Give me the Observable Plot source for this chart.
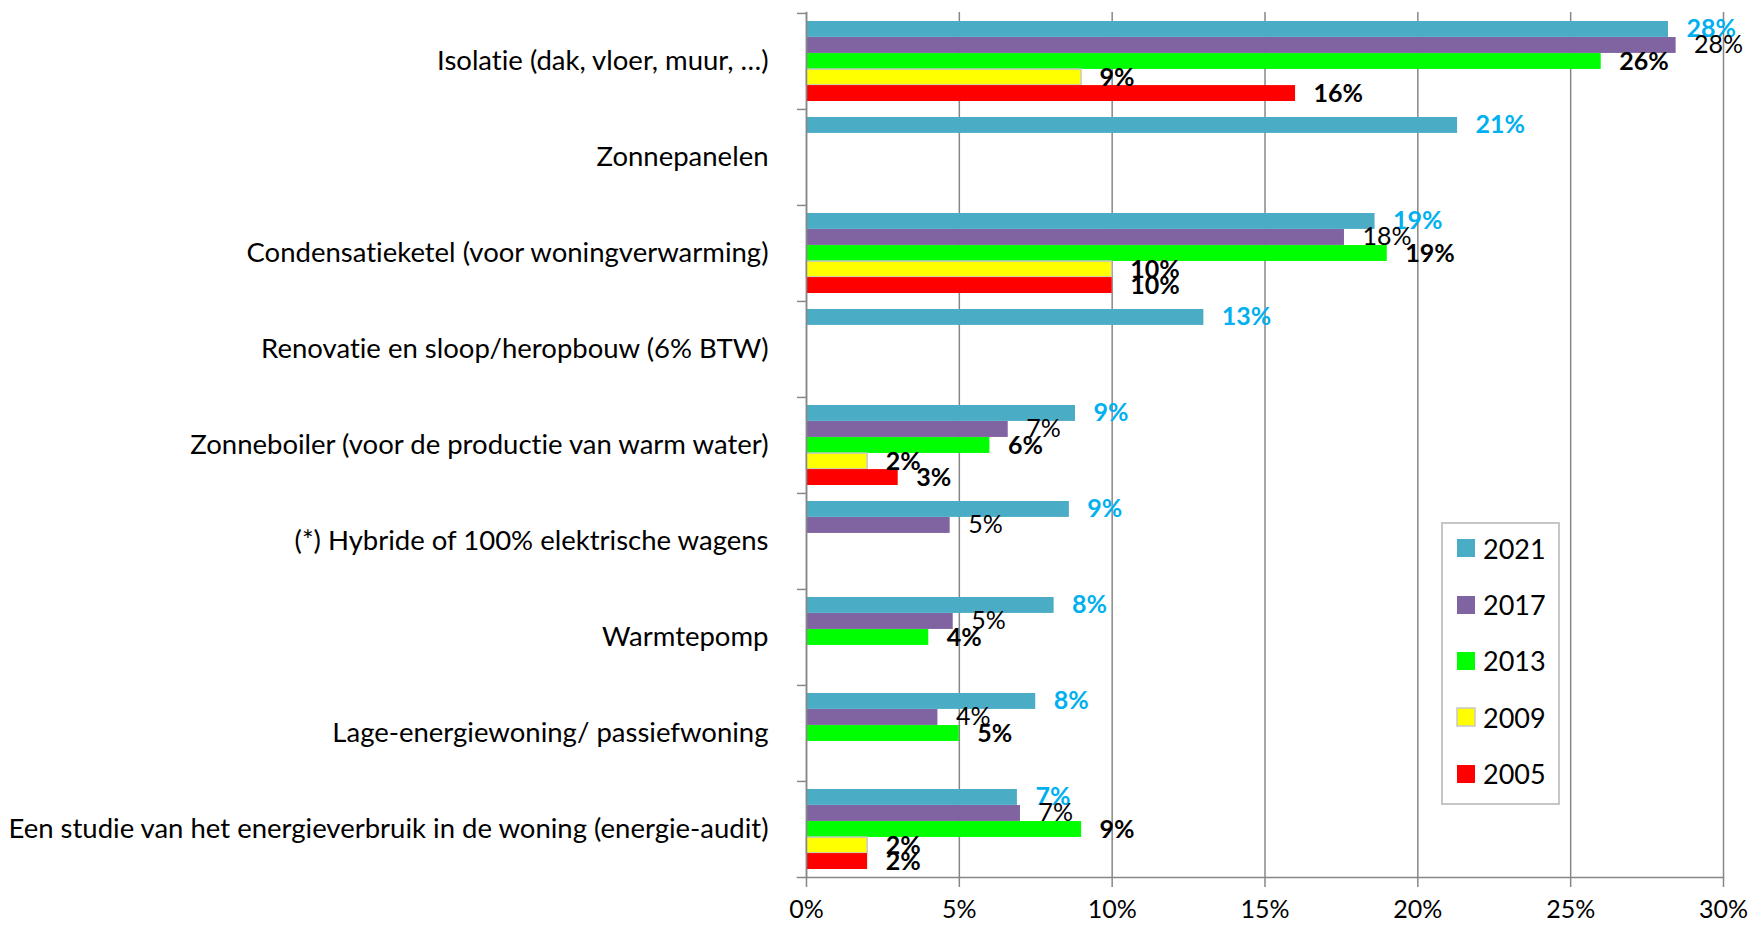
<!DOCTYPE html>
<html><head><meta charset="utf-8">
<script src="https://cdn.jsdelivr.net/npm/d3@7"></script>
<script src="https://cdn.jsdelivr.net/npm/@observablehq/plot@0.6"></script>
<style>
html,body{margin:0;padding:0;background:#fff;}
#wrap{position:relative;width:1751px;height:925px;font-family:Lato,sans-serif;}
svg text{font-variant-ligatures:none;font-feature-settings:"liga" 0;}
#legendBox{position:absolute;left:1441px;top:522px;width:119px;height:283px;box-sizing:border-box;border:2px solid #c6c6c6;background:#fff;padding:0 0 0 14px;}
#legendBox > div{margin-top:-4px;}
#legendBox .lg-swatch{height:56.4px;font-size:27px;font-family:Lato,sans-serif;color:#000;display:flex;align-items:center;margin:0;padding:0;}
#legendBox .lg-swatch svg{margin-right:8px;}
#legendBox .lg-swatch:nth-of-type(4) svg rect{stroke:#c8c8c8;stroke-width:1.5px;}
</style></head><body><div id="wrap"></div>
<script>
const categories = [
  "Isolatie (dak, vloer, muur, …)",
  "Zonnepanelen",
  "Condensatieketel (voor woningverwarming)",
  "Renovatie en sloop/heropbouw (6% BTW)",
  "Zonneboiler (voor de productie van warm water)",
  "(*) Hybride of 100% elektrische wagens",
  "Warmtepomp",
  "Lage-energiewoning/ passiefwoning",
  "Een studie van het energieverbruik in de woning (energie-audit)"
];
const years = ["2021", "2017", "2013", "2009", "2005"];
const colors = ["#4BACC6", "#8064A2", "#00FF00", "#FFFF00", "#FF0000"];
const values2021 = [28.2, 21.3, 18.6, 13.0, 8.8, 8.6, 8.1, 7.5, 6.9];
const values2017 = [28.45, null, 17.6, null, 6.6, 4.7, 4.8, 4.3, 7.0];
const values2013 = [26.0, null, 19.0, null, 6.0, null, 4.0, 5.0, 9.0];
const values2009 = [9.0, null, 10.0, null, 2.0, null, null, null, 2.0];
const values2005 = [16.0, null, 10.0, null, 3.0, null, null, null, 2.0];
const xTicks = [0, 5, 10, 15, 20, 25, 30];

const series = [values2021, values2017, values2013, values2009, values2005];
const rows = [];
years.forEach((yr, k) => categories.forEach((c, i) => {
  const v = series[k][i];
  if (v != null) rows.push({category: c, year: yr, value: v});
}));

const W = 1751, H = 925, mL = 806, mR = 28, mT = 12, mB = 48;
const bw = (H - mT - mB) / categories.length;
const slot = bw / 6;
const grey = "#878787";
const FS = 25;

const plot = Plot.plot({
  width: W, height: H,
  marginLeft: mL, marginRight: mR, marginTop: mT, marginBottom: mB,
  style: {fontFamily: "Lato, sans-serif", fontSize: FS + "px", color: "black", background: "white", overflow: "visible"},
  x: {domain: [0, 30]},
  y: {domain: categories, padding: 0},
  color: {domain: years, range: colors},
  marks: [
    Plot.gridX(xTicks, {stroke: grey, strokeOpacity: 1, strokeWidth: 1.5}),
    ...years.map((yr, k) => Plot.barX(rows.filter(d => d.year === yr), {
      x: "value", y: "category", fill: "year",
      insetTop: slot * (k + 0.5), insetBottom: slot * (4.5 - k),
      stroke: yr === "2009" ? "#c8c8c8" : "none", strokeWidth: 1.5
    })),
    Plot.frame({anchor: "left", stroke: grey, strokeWidth: 1.5}),
    Plot.frame({anchor: "bottom", stroke: grey, strokeWidth: 1.5, insetLeft: -9}),
    Plot.axisX({ticks: xTicks, tickFormat: d => d + "%", tickSize: 10, tickPadding: 13, stroke: grey, strokeWidth: 1.5, fill: "black", fontSize: 25, label: null}),
    Plot.axisY({tickSize: 0, tickPadding: 38, fill: "black", fontSize: 27.5, label: null}),
    Plot.axisY({tickSize: 9, tickFormat: () => "", dy: -bw / 2, stroke: grey, strokeWidth: 1.5, label: null}),
    ...years.map((yr, k) => Plot.text(rows.filter(d => d.year === yr), {
      x: "value", y: "category", text: d => Math.round(d.value) + "%",
      dx: 18, dy: slot * (k - 2), textAnchor: "start", fontSize: FS,
      fontWeight: yr === "2017" ? "normal" : "bold",
      fill: yr === "2021" ? "#00B0F0" : "black"
    }))
  ]
});
const wrap = document.getElementById("wrap");
wrap.appendChild(plot);

const box = document.createElement("div");
box.id = "legendBox";
box.appendChild(Plot.legend({color: {domain: years, range: colors}, legend: "swatches", columns: 1, swatchSize: 18, className: "lg"}));
wrap.appendChild(box);
</script>
</body></html>
